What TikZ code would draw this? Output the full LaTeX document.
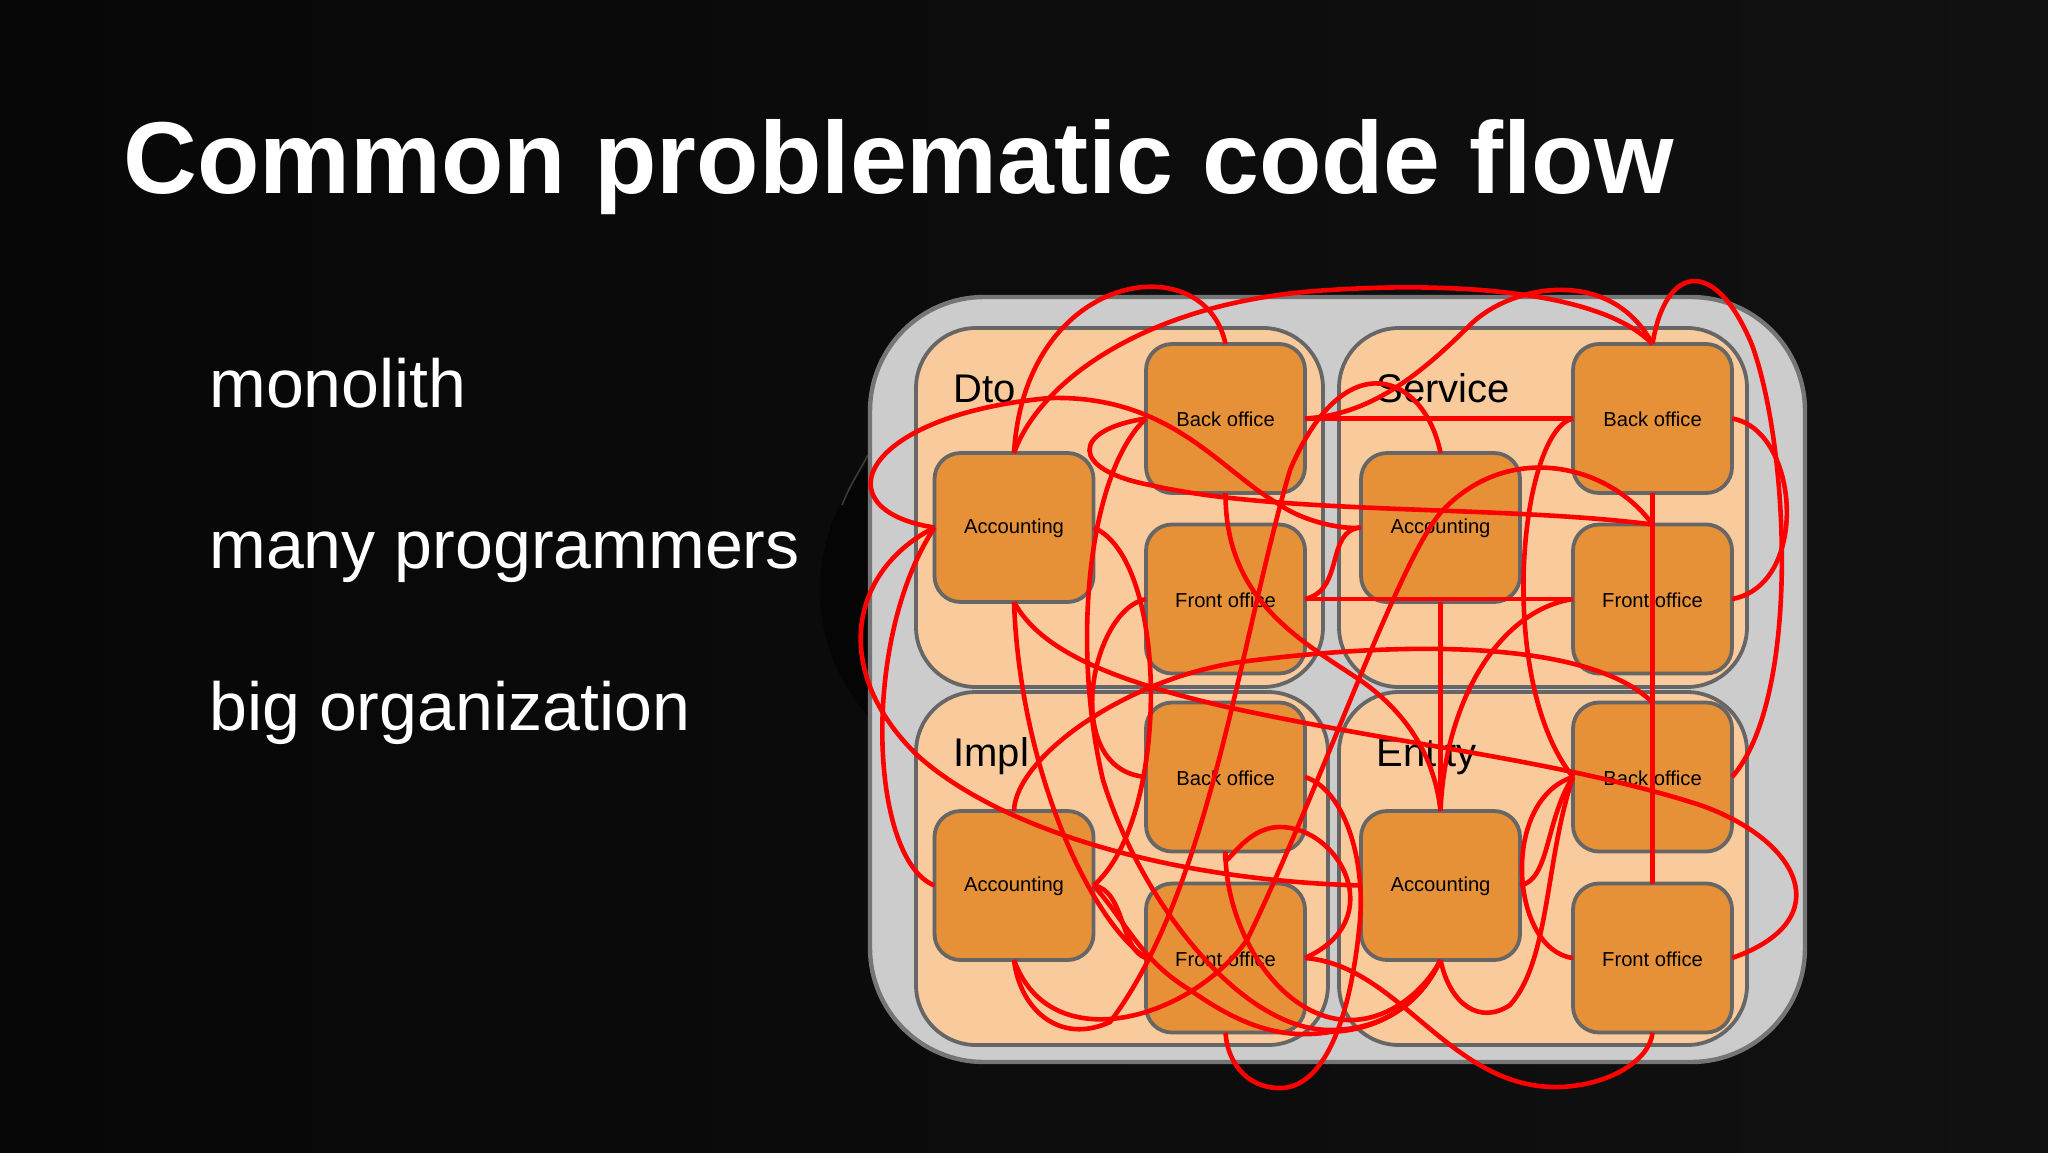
\documentclass[tikz,border=0pt]{standalone}
\usepackage{fontspec}
\setmainfont{Liberation Sans}
\definecolor{bgleft}{HTML}{070707}
\definecolor{bgright}{HTML}{111111}
\definecolor{bgshadow}{HTML}{050505}
\definecolor{bgrim}{HTML}{3A3A3A}
\definecolor{outerfill}{HTML}{CCCCCC}
\definecolor{outerline}{HTML}{757575}
\definecolor{panelfill}{HTML}{F9CB9C}
\definecolor{boxfill}{HTML}{E69138}
\definecolor{boxline}{HTML}{666666}
\definecolor{wirered}{HTML}{FF0000}
\tikzset{
  outerbox/.style={draw=outerline,fill=outerfill,line width=2.2pt,rounded corners=57pt,minimum width=467.5pt,minimum height=382.5pt,inner sep=0pt,outer sep=0pt},
  panelbox/.style={draw=boxline,fill=panelfill,line width=1.9pt,rounded corners=30pt,inner sep=0pt,outer sep=0pt},
  unitbox/.style={draw=boxline,fill=boxfill,line width=1.9pt,rounded corners=13pt,minimum width=79.5pt,minimum height=74.5pt,inner sep=0pt,outer sep=0pt},
  unitlabel/.style={text=black,inner sep=0pt,font=\fontsize{10.1pt}{12pt}\selectfont},
  wire/.style={draw=wirered,line width=2.3pt},
  titletext/.style={anchor=base west,text=white,inner sep=0pt,font=\fontsize{51.1pt}{60pt}\selectfont\bfseries},
  bullettext/.style={anchor=base west,text=white,inner sep=0pt,font=\fontsize{34.05pt}{40pt}\selectfont},
  grouptext/.style={anchor=base west,text=black,inner sep=0pt,font=\fontsize{20pt}{24pt}\selectfont}
}
\newcommand{\unit}[3]{%
  \node[unitbox] (#1) at #2 {};
  \node[unitlabel] (#1t) at ([yshift=-0.5pt]#1.center) {#3};
}
\begin{document}
\begin{tikzpicture}[x=0.5pt,y=-0.5pt]
\shade[left color=bgleft,right color=bgright] (0,0) rectangle (2048,1152);
\useasboundingbox (0,0) rectangle (2048,1152);
\fill[bgshadow] (1010,590) circle[radius=190];
\draw[bgrim,line width=0.8pt] (842,505) .. controls (850,485) and (860,470) .. (868,455);
\node[titletext] (title) at (123,193.5) {Common problematic code flow};
\node[bullettext] (b1) at (209,407) {monolith};
\node[bullettext] (b2) at (209,568) {many programmers};
\node[bullettext] (b3) at (209,730) {big organization};

\node[outerbox] (outer) at (1337.5,679.5) {};
\node[panelbox,minimum width=203.5pt,minimum height=179.5pt] (pD) at (1119.5,507.5) {};
\node[panelbox,minimum width=204pt,minimum height=179.5pt] (pS) at (1543,507.5) {};
\node[panelbox,minimum width=206pt,minimum height=176.5pt] (pI) at (1122,868.5) {};
\node[panelbox,minimum width=204pt,minimum height=176.5pt] (pE) at (1543,868.5) {};
\node[grouptext] (lD) at (953,402.5) {Dto};
\node[grouptext] (lS) at (1376,402.5) {Service};
\node[grouptext] (lI) at (953,766.5) {Impl};
\node[grouptext] (lE) at (1376,766.5) {Entity};

\unit{dB}{(1225.5,418.5)}{Back office}
\unit{dA}{(1014,527.5)}{Accounting}
\unit{dF}{(1225.5,599)}{Front office}
\unit{sB}{(1652.5,418.5)}{Back office}
\unit{sA}{(1440.5,527.5)}{Accounting}
\unit{sF}{(1652.5,599)}{Front office}
\unit{iB}{(1225.5,777)}{Back office}
\unit{iA}{(1014,885.5)}{Accounting}
\unit{iF}{(1225.5,958)}{Front office}
\unit{eB}{(1652.5,777)}{Back office}
\unit{eA}{(1440.5,885.5)}{Accounting}
\unit{eF}{(1652.5,958)}{Front office}

% top arcs
\draw[wire] (dA.north) .. controls (1025,270) and (1205,245) .. (dB.north);
\draw[wire] (dA.north) .. controls (1040,380) and (1150,300) .. (1330,290) .. controls (1450,282) and (1600,290) .. (sB.north);
\draw[wire] (dB.east) .. controls (1370,415) and (1420,375) .. (1470,325) .. controls (1510,285) and (1610,265) .. (sB.north);
\draw[wire] (dB.east) -- (sB.west);
\draw[wire] (sB.north) .. controls (1665,265) and (1715,255) .. (1752,345) .. controls (1790,450) and (1800,700) .. (eB.east);
\draw[wire] (sB.east) .. controls (1800,430) and (1810,585) .. (sF.east);
\draw[wire] (sB.south) -- (eF.north);
\draw[wire] (dB.west) .. controls (1070,430) and (1070,470) .. (1150,485) .. controls (1280,515) and (1500,505) .. (sF.north);
\draw[wire] (sF.north) .. controls (1610,465) and (1510,440) .. (1443,510) .. controls (1400,555) and (1320,790) .. (1247,940) .. controls (1190,1020) and (1050,1060) .. (iA.south);
\draw[wire] (dA.west) .. controls (820,510) and (860,415) .. (1050,398) .. controls (1170,395) and (1220,470) .. (1277,503) .. controls (1300,520) and (1340,530) .. (sA.west);
\draw[wire] (dF.east) .. controls (1345,590) and (1325,530) .. (sA.west);
\draw[wire] (dF.east) -- (sF.west);
\draw[wire] (sA.north) .. controls (1425,375) and (1345,340) .. (1290,470) .. controls (1240,640) and (1210,890) .. (1110,1022) .. controls (1060,1045) and (1020,1010) .. (iA.south);
\draw[wire] (dB.south) .. controls (1225,600) and (1300,640) .. (1360,680) .. controls (1410,715) and (1435,760) .. (eA.north);
\draw[wire] (sA.south) -- (eA.north);
\draw[wire] (sF.west) .. controls (1500,610) and (1445,700) .. (eA.north);
\draw[wire] (sB.west) .. controls (1520,430) and (1495,680) .. (eB.west);
% entity bundle
\draw[wire] (eA.east) .. controls (1550,880) and (1545,820) .. (eB.west);
\draw[wire] (eF.west) .. controls (1510,950) and (1500,800) .. (eB.west);
\draw[wire] (eA.south) .. controls (1450,1005) and (1480,1025) .. (1510,1005) .. controls (1550,960) and (1545,860) .. (eB.west);
% to the accounting entity from below
\draw[wire] (dB.west) .. controls (1090,470) and (1070,640) .. (1103,780) .. controls (1140,900) and (1240,1030) .. (1330,1030) .. controls (1380,1030) and (1420,1005) .. (eA.south);
\draw[wire] (iA.east) .. controls (1125,920) and (1140,960) .. (1190,990) .. controls (1240,1025) and (1280,1040) .. (1330,1032) .. controls (1380,1030) and (1420,1005) .. (eA.south);
\draw[wire] (iB.south) .. controls (1225,930) and (1280,1020) .. (1350,1020) .. controls (1390,1020) and (1425,990) .. (eA.south);
% long sweeps
\draw[wire] (dA.south) .. controls (1040,650) and (1110,680) .. (1227,707) .. controls (1400,745) and (1560,760) .. (1700,805) .. controls (1800,840) and (1840,920) .. (eF.east);
\draw[wire] (dA.south) .. controls (1020,770) and (1090,920) .. (iF.west);
\draw[wire] (dF.west) .. controls (1090,610) and (1060,770) .. (iB.west);
\draw[wire] (dA.east) .. controls (1170,560) and (1170,820) .. (iA.east);
\draw[wire] (iA.north) .. controls (1015,760) and (1120,680) .. (1240,662) .. controls (1450,635) and (1600,650) .. (eB.north);
\draw[wire] (iA.west) .. controls (870,860) and (860,640) .. (dA.west);
\draw[wire] (dA.west) .. controls (850,570) and (830,670) .. (917,755) .. controls (1000,830) and (1170,880) .. (eA.west);
\draw[wire] (iA.east) .. controls (1125,890) and (1120,950) .. (iF.west);
% loops round the front office
\draw[wire] (iB.east) .. controls (1345,790) and (1365,860) .. (1360,920) .. controls (1350,1030) and (1320,1088) .. (1280,1088) .. controls (1245,1088) and (1227,1060) .. (iF.south);
\draw[wire] (iB.south) .. controls (1222,880) and (1240,827) .. (1280,827) .. controls (1340,827) and (1390,920) .. (iF.east);
\draw[wire] (iF.east) .. controls (1400,965) and (1450,1090) .. (1560,1087) .. controls (1610,1085) and (1650,1060) .. (eF.south);
\end{tikzpicture}
\end{document}
